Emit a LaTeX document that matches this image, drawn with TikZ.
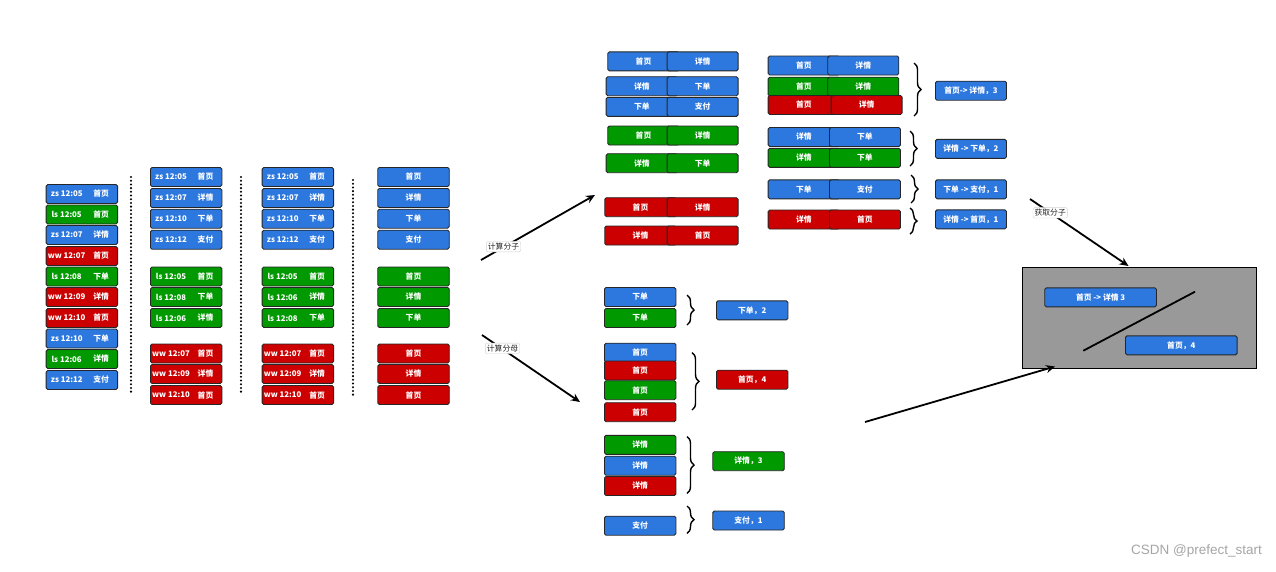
\documentclass[tikz,border=0pt]{standalone}
\usepackage{fontspec}
\setmainfont{Noto Sans CJK SC}
\newfontfamily\wmfont{Liberation Sans}
\usetikzlibrary{arrows.meta,decorations.pathreplacing}
\definecolor{cb}{RGB}{45,120,222}
\definecolor{cg}{RGB}{0,153,0}
\definecolor{cr}{RGB}{204,0,0}
\definecolor{cgray}{RGB}{153,153,153}
\tikzset{
  boxfont/.style={font=\fontsize{7.8}{8.5}\selectfont\bfseries},
  box/.style={draw=black!85, line width=0.9pt, rounded corners=1.6pt, minimum width=71.5pt,
    minimum height=19pt, inner sep=0pt, text=white, boxfont},
  txt/.style={inner sep=0pt, text=white, boxfont},
  dotline/.style={line width=2.3pt, line cap=round, dash pattern=on 0pt off 3.7pt},
  bracel/.style={decorate, decoration={brace, amplitude=7pt}, line width=1.4pt},
  arr/.style={line width=1.8pt, -{Stealth[length=9pt,width=8pt]}},
  lab/.style={fill=white, draw=black!18, rounded corners=2pt, inner sep=1.6pt,
    font=\fontsize{7.8}{8}\selectfont, text=black!85},
}
% name, x-left, y-center, colour, left text, right text
\newcommand\lbx[6]{%
  \node[box,fill=#4,anchor=west] (#1) at (#2,#3) {};
  \node[txt] (#1a) at ([xshift=21pt]#1.west) {#5};
  \node[txt] (#1b) at ([xshift=55.5pt]#1.west) {#6};}
% name, x-left, y-center, colour, text
\newcommand\sbx[5]{%
  \node[box,fill=#4,anchor=west] (#1) at (#2,#3) {#5};}
% name, x-left, x-right, y-center, colour, text1, text2
\newcommand\pbx[7]{%
  \node[box,fill=#5,anchor=west] (#1l) at (#2,#4) {#6};
  \node[box,fill=#5,anchor=west,minimum width=71pt] (#1r) at (#3,#4) {#7};}
\begin{document}
\begin{tikzpicture}[x=1pt,y=-1pt]
\fill[white] (0,0) rectangle (1276,571);
\useasboundingbox (0,0) rectangle (1276,571);

% column 1
\lbx{c1a}{45.7}{194}{cb}{zs~12:05}{首页}
\lbx{c1b}{45.7}{214.5}{cg}{ls~12:05}{首页}
\lbx{c1c}{45.7}{235}{cb}{zs~12:07}{详情}
\lbx{c1d}{45.7}{256}{cr}{ww~12:07}{首页}
\lbx{c1e}{45.7}{276.5}{cg}{ls~12:08}{下单}
\lbx{c1f}{45.7}{297}{cr}{ww~12:09}{详情}
\lbx{c1g}{45.7}{318}{cr}{ww~12:10}{首页}
\lbx{c1h}{45.7}{338.5}{cb}{zs~12:10}{下单}
\lbx{c1i}{45.7}{359}{cg}{ls~12:06}{详情}
\lbx{c1j}{45.7}{380}{cb}{zs~12:12}{支付}

% column 2
\lbx{c2a}{150}{177}{cb}{zs~12:05}{首页}
\lbx{c2b}{150}{198}{cb}{zs~12:07}{详情}
\lbx{c2c}{150}{218.7}{cb}{zs~12:10}{下单}
\lbx{c2d}{150}{239.7}{cb}{zs~12:12}{支付}
\lbx{c2e}{150}{276.5}{cg}{ls~12:05}{首页}
\lbx{c2f}{150}{297}{cg}{ls~12:08}{下单}
\lbx{c2g}{150}{318}{cg}{ls~12:06}{详情}
\lbx{c2h}{150}{353.5}{cr}{ww~12:07}{首页}
\lbx{c2i}{150}{374}{cr}{ww~12:09}{详情}
\lbx{c2j}{150}{395}{cr}{ww~12:10}{首页}

% column 3
\lbx{c3a}{261.7}{177}{cb}{zs~12:05}{首页}
\lbx{c3b}{261.7}{198}{cb}{zs~12:07}{详情}
\lbx{c3c}{261.7}{218.7}{cb}{zs~12:10}{下单}
\lbx{c3d}{261.7}{239.7}{cb}{zs~12:12}{支付}
\lbx{c3e}{261.7}{276.5}{cg}{ls~12:05}{首页}
\lbx{c3f}{261.7}{297}{cg}{ls~12:06}{详情}
\lbx{c3g}{261.7}{318}{cg}{ls~12:08}{下单}
\lbx{c3h}{261.7}{353.5}{cr}{ww~12:07}{首页}
\lbx{c3i}{261.7}{374}{cr}{ww~12:09}{详情}
\lbx{c3j}{261.7}{395}{cr}{ww~12:10}{首页}

% column 4
\sbx{c4a}{377.3}{177}{cb}{首页}
\sbx{c4b}{377.3}{198}{cb}{详情}
\sbx{c4c}{377.3}{218.7}{cb}{下单}
\sbx{c4d}{377.3}{239.7}{cb}{支付}
\sbx{c4e}{377.3}{276.5}{cg}{首页}
\sbx{c4f}{377.3}{297}{cg}{详情}
\sbx{c4g}{377.3}{318}{cg}{下单}
\sbx{c4h}{377.3}{353.5}{cr}{首页}
\sbx{c4i}{377.3}{374}{cr}{详情}
\sbx{c4j}{377.3}{395}{cr}{首页}

% dotted separators
\coordinate (d1t) at (131,177); \coordinate (d1b) at (131,394);
\coordinate (d2t) at (241,177); \coordinate (d2b) at (241,394);
\coordinate (d3t) at (353,180); \coordinate (d3b) at (353,397);
\draw[dotline] (d1t) -- (d1b);
\draw[dotline] (d2t) -- (d2b);
\draw[dotline] (d3t) -- (d3b);

% arrows from columns
\coordinate (a1s) at (481,260); \coordinate (a1e) at (595,195);
\coordinate (a2s) at (482,335); \coordinate (a2e) at (580,402);
\draw[arr] (a1s) -- (a1e);
\draw[arr] (a2s) -- (a2e);
\node[lab] (l1) at (503.5,246.7) {计算分子};
\node[lab] (l2) at (502.5,348.3) {计算分母};

% top pairs
\pbx{p1}{607.3}{666.7}{61.3}{cb}{首页}{详情}
\pbx{p2}{605.7}{666.7}{86.2}{cb}{详情}{下单}
\pbx{p3}{605.7}{666.7}{106.8}{cb}{下单}{支付}
\pbx{p4}{607.3}{666.7}{135.5}{cg}{首页}{详情}
\pbx{p5}{605.7}{666.7}{163.2}{cg}{详情}{下单}
\pbx{p6}{604.3}{666.7}{207.2}{cr}{首页}{详情}
\pbx{p7}{604.3}{666.7}{235.5}{cr}{详情}{首页}

% grouped pairs
\pbx{q1}{767.7}{827.3}{65.5}{cb}{首页}{详情}
\pbx{q2}{767.7}{827.3}{86.7}{cg}{首页}{详情}
\pbx{q3}{767.7}{830.7}{105}{cr}{首页}{详情}
\pbx{q4}{767.7}{829}{137}{cb}{详情}{下单}
\pbx{q5}{767.7}{829}{157.8}{cg}{详情}{下单}
\pbx{q6}{767.7}{829}{189.3}{cb}{下单}{支付}
\pbx{q7}{767.7}{829}{219.5}{cr}{详情}{首页}

\coordinate (b1t) at (914,63);  \coordinate (b1b) at (914,116);
\coordinate (b2t) at (910,131); \coordinate (b2b) at (910,166);
\coordinate (b3t) at (911,175); \coordinate (b3b) at (911,203);
\coordinate (b4t) at (910,208); \coordinate (b4b) at (910,234);
\draw[bracel] (b1t) -- (b1b);
\draw[bracel] (b2t) -- (b2b);
\draw[bracel] (b3t) -- (b3b);
\draw[bracel] (b4t) -- (b4b);

\node[box,fill=cb,anchor=west,minimum width=71pt] (r1) at (935,90.7) {首页-> 详情，3};
\node[box,fill=cb,anchor=west,minimum width=71pt] (r2) at (935,148.8) {详情 -> 下单，2};
\node[box,fill=cb,anchor=west,minimum width=71pt] (r3) at (935,189.3) {下单 -> 支付，1};
\node[box,fill=cb,anchor=west,minimum width=71pt] (r4) at (935,219.3) {详情 -> 首页，1};

% bottom groups
\sbx{s1}{604}{297}{cb}{下单}
\sbx{s2}{604}{318}{cg}{下单}
\sbx{s3}{604}{352.7}{cb}{首页}
\sbx{s4}{604}{370.5}{cr}{首页}
\sbx{s5}{604}{390.2}{cg}{首页}
\sbx{s6}{604}{412.2}{cr}{首页}
\sbx{s7}{604}{444.8}{cg}{详情}
\sbx{s8}{604}{465.7}{cb}{详情}
\sbx{s9}{604}{486}{cr}{详情}
\sbx{s10}{604}{525.7}{cb}{支付}

\coordinate (b5t) at (687,295);   \coordinate (b5b) at (687,325);
\coordinate (b6t) at (692,352.7); \coordinate (b6b) at (692,410);
\coordinate (b7t) at (687,436.7); \coordinate (b7b) at (687,493.3);
\coordinate (b8t) at (687,506);   \coordinate (b8b) at (687,533.3);
\draw[bracel] (b5t) -- (b5b);
\draw[bracel] (b6t) -- (b6b);
\draw[bracel] (b7t) -- (b7b);
\draw[bracel] (b8t) -- (b8b);

\sbx{t1}{716}{310.3}{cb}{下单，2}
\sbx{t2}{716}{379.7}{cr}{首页，4}
\sbx{t3}{712.3}{461.2}{cg}{详情，3}
\sbx{t4}{712.3}{520.5}{cb}{支付，1}

% result panel
\node[draw=black, fill=cgray, line width=1.1pt, minimum width=233.7pt, minimum height=101.6pt,
  inner sep=0pt, anchor=north west] (gb) at (1022.3,266.7) {};
\node[box,fill=cb,anchor=west,minimum width=111.7pt] (g1) at (1044.3,297.3) {首页 -> 详情 3};
\node[box,fill=cb,anchor=west,minimum width=111.7pt] (g2) at (1125,345.3) {首页，4};
\coordinate (dl1) at (1083.3,350.7); \coordinate (dl2) at (1195,291.7);
\draw[line width=1.8pt] (dl1) -- (dl2);

\coordinate (a3s) at (1030,199); \coordinate (a3e) at (1128.5,266);
\draw[arr] (a3s) -- (a3e);
\node[lab] (l3) at (1050.2,212.8) {获取分子};
\coordinate (a4s) at (865,422); \coordinate (a4e) at (1055,366.5);
\draw[arr] (a4s) -- (a4e);

\node[font=\wmfont\fontsize{13.5}{14}\selectfont, text=black!35, anchor=east, inner sep=0pt] (wm) at (1262,550.5) {CSDN @prefect\_start};
\end{tikzpicture}
\end{document}
